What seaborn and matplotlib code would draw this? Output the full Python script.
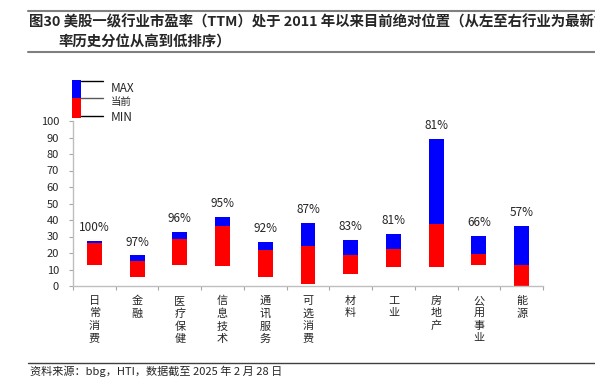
import numpy as np
import pandas as pd
import seaborn as sns
import matplotlib.pyplot as plt
from matplotlib.patches import Rectangle
from matplotlib.lines import Line2D

industries = ['日常消费', '金融', '医疗保健', '信息技术', '通讯服务', '可选消费',
              '材料', '工业', '房地产', '公用事业', '能源']
pe_max = [27.5, 18.5, 32.5, 42.0, 26.5, 38.0, 28.0, 31.5, 89.0, 30.5, 36.5]
pe_now = [26.0, 15.0, 28.5, 36.5, 22.0, 24.0, 19.0, 22.5, 37.5, 19.5, 13.0]
pe_min = [13.0, 5.5, 12.5, 12.0, 5.5, 1.5, 7.0, 11.5, 11.5, 12.5, 0.3]
pct_rank = [100, 97, 96, 95, 92, 87, 83, 81, 81, 66, 57]

df = pd.DataFrame({'industry': industries, 'max': pe_max, 'now': pe_now,
                   'min': pe_min, 'pct': pct_rank})
df['lower'] = df['now'] - df['min']
df['upper'] = df['max'] - df['now']

sns.set_theme(style='white')
plt.rcParams['font.family'] = ['Noto Sans CJK SC', 'DejaVu Sans']

W, H = 595, 392
def fx(x): return x / W
def fy(y): return 1 - y / H

fig = plt.figure(figsize=(W / 100, H / 100), dpi=100)
ax = fig.add_axes([fx(73), fy(286), 470 / W, 165 / H])

# red: min -> current, blue: current -> max
sns.barplot(data=df, x='industry', y='lower', bottom=df['min'].values, color='#ff0000',
            width=0.35, errorbar=None, saturation=1, linewidth=0, ax=ax)
sns.barplot(data=df, x='industry', y='upper', bottom=df['now'].values, color='#0000ff',
            width=0.35, errorbar=None, saturation=1, linewidth=0, ax=ax)

for i, row in df.iterrows():
    ax.annotate(f"{row['pct']}%", (i, row['max']), xytext=(0, 5), textcoords='offset points',
                ha='center', va='bottom', fontsize=8.5)

ax.set_ylim(0, 100)
ax.set_yticks(range(0, 101, 10))
ax.set_xlim(-0.5, 10.5)
ax.set_xticks(range(len(industries)))
ax.set_xticklabels(['\n'.join(s) for s in industries], fontsize=8, linespacing=1.3, va='top')
ax.set_xticks(np.arange(-0.5, 11, 1), minor=True)
ax.tick_params(axis='x', which='major', length=0, pad=7)
ax.tick_params(axis='x', which='minor', length=3, color='#a6a6a6', width=0.8, direction='out', bottom=True)
ax.tick_params(axis='y', length=3, color='#a6a6a6', width=0.8, direction='out', left=True,
               labelsize=8, pad=7)
ax.set_xlabel('')
ax.set_ylabel('')
for s in ['top', 'right']:
    ax.spines[s].set_visible(False)
for s in ['left', 'bottom']:
    ax.spines[s].set_color('#bfbfbf')
    ax.spines[s].set_linewidth(1)

# legend key drawn by hand
fig.add_artist(Rectangle((fx(72.3), fy(97.7)), 8.4 / W, 17.7 / H, transform=fig.transFigure,
                         facecolor='#0000ff', edgecolor='none'))
fig.add_artist(Rectangle((fx(72.3), fy(117.7)), 8.4 / W, 20 / H, transform=fig.transFigure,
                         facecolor='#ff0000', edgecolor='none'))
for y, c in [(81, 'black'), (97.7, '#595959'), (116.3, 'black')]:
    fig.add_artist(Line2D([fx(80.7), fx(103.3)], [fy(y), fy(y)], color=c, lw=1))
fig.text(fx(110.7), fy(89), 'MAX', fontsize=8.5, va='center')
fig.text(fx(110.7), fy(102), '当前', fontsize=7.5, va='center')
fig.text(fx(110.7), fy(117.5), 'MIN', fontsize=8.5, va='center')

# title and source
fig.add_artist(Line2D([fx(28), 1], [fy(10.7), fy(10.7)], color='#808080', lw=1.5))
fig.add_artist(Line2D([fx(28), 1], [fy(52.3), fy(52.3)], color='#808080', lw=1.5))
fig.text(fx(29), fy(22.7), '图30 美股一级行业市盈率（TTM）处于 2011 年以来目前绝对位置（从左至右行业为最新市',
         fontsize=10.4, fontweight='bold', va='center')
fig.text(fx(58), fy(41.7), '率历史分位从高到低排序）', fontsize=10.4, fontweight='bold', va='center')
fig.add_artist(Line2D([fx(28), 1], [fy(363.3), fy(363.3)], color='#404040', lw=1))
fig.text(fx(30), fy(371.7), '资料来源：bbg，HTI，数据截至 2025 年 2 月 28 日', fontsize=8, va='center')

fig.savefig('out.png', dpi=100)
